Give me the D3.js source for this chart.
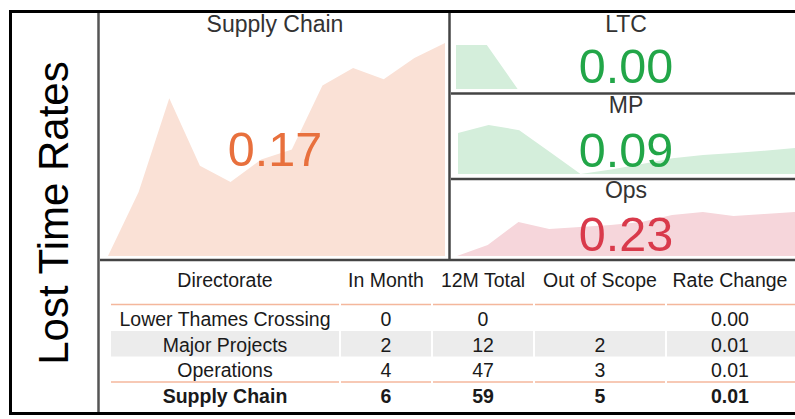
<!DOCTYPE html>
<html>
<head>
<meta charset="utf-8">
<script src="https://cdn.jsdelivr.net/npm/d3@7"></script>
<style>
  html, body { margin: 0; padding: 0; background: #fff; }
  svg { display: block; font-family: "Liberation Sans", Arial, sans-serif; }
</style>
</head>
<body>
<svg id="chart" width="795" height="419"></svg>
<script>
// ---------------- DATA ----------------
const chartTitle = "Lost Time Rates";
const monthIndex = [0, 1, 2, 3, 4, 5, 6, 7, 8, 9, 10, 11];
const supplyChainRates = [0.000, 0.051, 0.126, 0.072, 0.059, 0.077, 0.085, 0.136, 0.150, 0.141, 0.158, 0.170];
const ltcRates = [0.35, 0.35, 0, 0, 0, 0, 0, 0, 0, 0, 0, 0];
const mpRates = [0.142, 0.170, 0.152, 0.076, 0.000, 0.016, 0.035, 0.055, 0.066, 0.073, 0.081, 0.090];
const opsRates = [0.000, 0.058, 0.178, 0.141, 0.152, 0.162, 0.178, 0.214, 0.230, 0.209, 0.220, 0.230];
const panelTitles = ["Supply Chain", "LTC", "MP", "Ops"];
const currentRates = ["0.17", "0.00", "0.09", "0.23"];

const tableColumns = ["Directorate", "In Month", "12M Total", "Out of Scope", "Rate Change"];
const directorates = ["Lower Thames Crossing", "Major Projects", "Operations", "Supply Chain"];
const inMonth = [0, 2, 4, 6];
const total12M = [0, 12, 47, 59];
const outOfScope = ["", 2, 3, 5];
const rateChange = ["0.00", "0.01", "0.01", "0.01"];

// ---------------- LAYOUT / STYLE ----------------
const svg = d3.select("#chart");

const panels = [
  { values: supplyChainRates, x0: 108, x1: 445, base: 256, top: 43, fill: "#fae1d6", color: "#e8703d",
    cx: 275, titleY: 32, numY: 166 },
  { values: ltcRates, x0: 456, x1: 795, base: 89, top: 45, fill: "#d4eedb", color: "#22a648",
    cx: 626, titleY: 32, numY: 83 },
  { values: mpRates, x0: 458, x1: 795, base: 174, top: 125, fill: "#d4eedb", color: "#22a648",
    cx: 626, titleY: 113, numY: 167 },
  { values: opsRates, x0: 457, x1: 795, base: 256, top: 212, fill: "#f6d6db", color: "#d93a4b",
    cx: 626, titleY: 198, numY: 251 }
];

panels.forEach((p, i) => {
  const x = d3.scaleLinear().domain(d3.extent(monthIndex)).range([p.x0, p.x1]);
  const y = d3.scaleLinear().domain([0, d3.max(p.values)]).range([p.base, p.top]);
  const area = d3.area()
    .x((d, j) => x(monthIndex[j]))
    .y0(y(0))
    .y1(d => y(d));
  svg.append("path").datum(p.values).attr("d", area).attr("fill", p.fill);
  svg.append("text").attr("x", p.cx).attr("y", p.titleY).attr("text-anchor", "middle")
    .attr("font-size", 23).attr("fill", "#333").text(panelTitles[i]);
  svg.append("text").attr("x", p.cx).attr("y", p.numY).attr("text-anchor", "middle")
    .attr("font-size", 48.5).attr("fill", p.color).text(currentRates[i]);
});

// ---------------- TABLE ----------------
const colBounds = [110, 340, 432, 534, 666, 800];
const headerY = 287;
const rowTop = 305.5, rowH = 25.5;

// shaded row (Major Projects)
directorates.forEach((d, r) => {
  if (r === 1) {
    tableColumns.forEach((c, ci) => {
      svg.append("rect").attr("x", colBounds[ci] + 1).attr("y", rowTop + r * rowH)
        .attr("width", colBounds[ci + 1] - colBounds[ci] - 2).attr("height", rowH)
        .attr("fill", "#ececec");
    });
  }
});
// peach separators
[rowTop - 1, rowTop + 3 * rowH].forEach(yy => {
  tableColumns.forEach((c, ci) => {
    svg.append("line").attr("x1", colBounds[ci] + 1).attr("x2", colBounds[ci + 1] - 1)
      .attr("y1", yy).attr("y2", yy).attr("stroke", "#f4b79c").attr("stroke-width", 1.5);
  });
});

const colCenters = colBounds.slice(0, -1).map((b, i) => (b + colBounds[i + 1]) / 2);
colCenters[0] = 225; colCenters[4] = 730;

svg.selectAll("text.hdr").data(tableColumns).join("text").attr("class", "hdr")
  .attr("x", (d, i) => colCenters[i]).attr("y", headerY).attr("text-anchor", "middle")
  .attr("font-size", 19.5).attr("fill", "#1a1a1a").text(d => d);

const rows = directorates.map((d, i) => [d, inMonth[i], total12M[i], outOfScope[i], rateChange[i]]);
rows.forEach((row, r) => {
  svg.selectAll(null).data(row).join("text")
    .attr("x", (d, i) => colCenters[i]).attr("y", rowTop + r * rowH + 20.5)
    .attr("text-anchor", "middle").attr("font-size", 19.5)
    .attr("font-weight", r === 3 ? "bold" : "normal")
    .attr("fill", "#1a1a1a").text(d => d);
});

// ---------------- FRAME ----------------
const g = svg.append("g").attr("fill", "none");
g.append("line").attr("x1", 98.5).attr("x2", 98.5).attr("y1", 12).attr("y2", 413).attr("stroke", "#555").attr("stroke-width", 2.5);
g.append("line").attr("x1", 449.5).attr("x2", 449.5).attr("y1", 12).attr("y2", 260).attr("stroke", "#444").attr("stroke-width", 2.5);
g.append("line").attr("x1", 100).attr("x2", 800).attr("y1", 260).attr("y2", 260).attr("stroke", "#444").attr("stroke-width", 2.5);
g.append("line").attr("x1", 451).attr("x2", 800).attr("y1", 93.5).attr("y2", 93.5).attr("stroke", "#444").attr("stroke-width", 2.5);
g.append("line").attr("x1", 451).attr("x2", 800).attr("y1", 179).attr("y2", 179).attr("stroke", "#444").attr("stroke-width", 2.5);
g.append("rect").attr("x", 10.5).attr("y", 11.5).attr("width", 800).attr("height", 402)
  .attr("stroke", "#000").attr("stroke-width", 3);

svg.append("text").attr("transform", "translate(68,213) rotate(-90)")
  .attr("text-anchor", "middle").attr("font-size", 42).attr("fill", "#000").text(chartTitle);
</script>
</body>
</html>
